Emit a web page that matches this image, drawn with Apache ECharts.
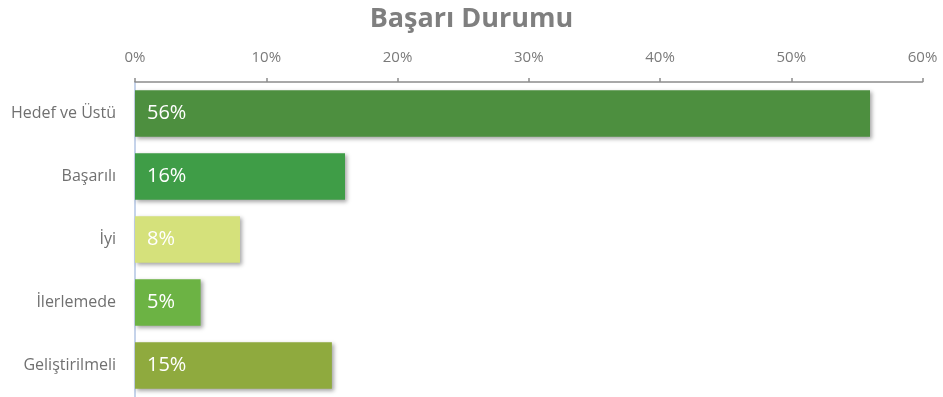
<!DOCTYPE html>
<html>
<head>
<meta charset="utf-8">
<script src="https://cdn.jsdelivr.net/npm/echarts@6/dist/echarts.min.js"></script>
<style>
  html, body { margin: 0; padding: 0; background: #fff; }
  #chart { width: 943px; height: 397px; }
</style>
</head>
<body>
<div id="chart"></div>
<script>
// Achievement levels and their share of students (%)
const categories = ['Hedef ve Üstü', 'Başarılı', 'İyi', 'İlerlemede', 'Geliştirilmeli'];
const shares = [56, 16, 8, 5, 15];
const barColors = ['#4d8f3f', '#3f9d47', '#d5e17b', '#6cb344', '#8faa3e'];
const axisTicks = [0, 10, 20, 30, 40, 50, 60];

const chart = echarts.init(document.getElementById('chart'));

chart.setOption({
  animation: false,
  backgroundColor: '#ffffff',
  title: {
    text: 'Başarı Durumu',
    left: 'center',
    top: 1,
    textStyle: {
      fontFamily: 'Open Sans',
      fontWeight: 'bold',
      fontSize: 27,
      color: '#7f7f7f'
    }
  },
  grid: {
    left: 135,
    right: 20.5,
    top: 82,
    height: 319,
    containLabel: false
  },
  xAxis: {
    type: 'value',
    position: 'top',
    min: axisTicks[0],
    max: axisTicks[axisTicks.length - 1],
    interval: axisTicks[1] - axisTicks[0],
    axisLine: { show: true, lineStyle: { color: '#8c8c8c', width: 1.5 } },
    axisTick: { show: true, length: 4, lineStyle: { color: '#8c8c8c', width: 1.5 } },
    splitLine: { show: false },
    axisLabel: {
      formatter: '{value}%',
      margin: 17,
      color: '#7a7a7a',
      fontFamily: 'Open Sans',
      fontSize: 15
    }
  },
  yAxis: {
    type: 'category',
    inverse: true,
    data: categories,
    axisLine: { show: true, lineStyle: { color: '#c5d3ea', width: 2 } },
    axisTick: { show: false },
    axisLabel: {
      margin: 19,
      color: '#707070',
      fontFamily: 'Open Sans',
      fontSize: 16
    }
  },
  series: [{
    type: 'bar',
    barCategoryGap: '26%',
    data: shares.map((v, i) => ({
      value: v,
      itemStyle: { color: barColors[i] }
    })),
    itemStyle: {
      shadowColor: 'rgba(0,0,0,0.35)',
      shadowBlur: 4,
      shadowOffsetX: 2,
      shadowOffsetY: 2
    },
    label: {
      show: true,
      position: 'insideLeft',
      distance: 12,
      formatter: p => Math.round(p.value) + '%',
      color: '#ffffff',
      fontFamily: 'Open Sans',
      fontSize: 20
    }
  }]
});
</script>
</body>
</html>
